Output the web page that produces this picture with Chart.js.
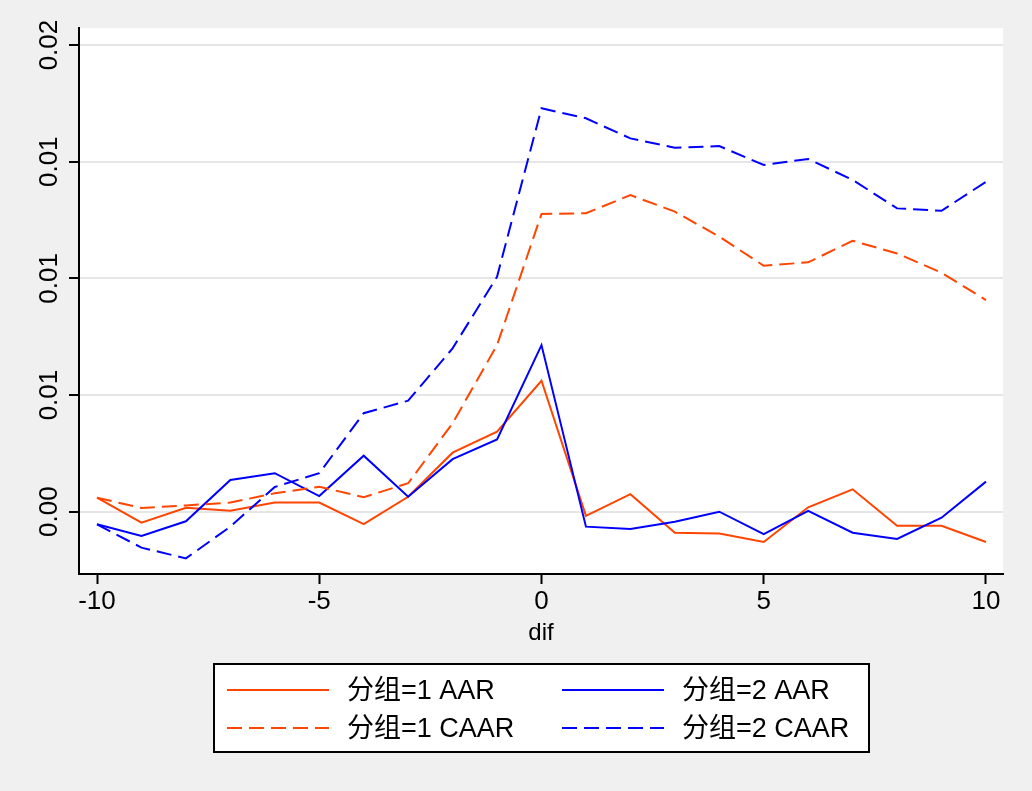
<!DOCTYPE html>
<html>
<head>
<meta charset="utf-8">
<script src="https://cdn.jsdelivr.net/npm/chart.js@4/dist/chart.umd.min.js"></script>
<style>
  html, body { margin: 0; padding: 0; background: #f0f0f0; }
  #wrap { width: 1032px; height: 791px; position: relative; }
</style>
</head>
<body>
<div id="wrap"><canvas id="evt"></canvas></div>
<script>
// ===== event window data =====
const dif = [-10, -9, -8, -7, -6, -5, -4, -3, -2, -1, 0, 1, 2, 3, 4, 5, 6, 7, 8, 9, 10];
const aar1 = [0.0006, -0.00047, 0.00017, 0.00004, 0.00039, 0.00039, -0.00053, 0.00064, 0.00253, 0.00343, 0.00561,
  -0.00018, 0.00075, -0.0009, -0.00093, -0.0013, 0.00019, 0.00096, -0.0006, -0.0006, -0.0013];
const aar2 = [-0.00054, -0.00104, -0.00041, 0.00136, 0.00165, 0.00067, 0.0024, 0.00064, 0.00225, 0.0031, 0.00714,
  -0.00064, -0.00074, -0.00043, 0.0, -0.00096, 0.00004, -0.0009, -0.00117, -0.00026, 0.00129];
const caar1 = [0.0006, 0.00016, 0.00027, 0.00039, 0.00079, 0.00107, 0.00062, 0.00122, 0.00379, 0.00714, 0.01276,
  0.01279, 0.01357, 0.01286, 0.01179, 0.01054, 0.01069, 0.01161, 0.01107, 0.01024, 0.00907];
const caar2 = [-0.00054, -0.00154, -0.002, -0.00064, 0.00106, 0.00165, 0.00422, 0.00476, 0.007, 0.01007, 0.01729,
  0.01686, 0.016, 0.0156, 0.01567, 0.01486, 0.01512, 0.01422, 0.013, 0.0129, 0.01414];
const seriesNames = ['分组=1 AAR', '分组=2 AAR', '分组=1 CAAR', '分组=2 CAAR'];
const xTicks = [-10, -5, 0, 5, 10];
const yTicks = [0, 0.005, 0.01, 0.015, 0.02];
const yTickLabels = ['0.00', '0.01', '0.01', '0.01', '0.02'];

const FONT = "'Liberation Sans', Arial, 'Noto Sans CJK SC', sans-serif";
const ORANGE = '#ff4500';
const BLUE = '#0000ff';
const DASH = [15, 7];

function pts(arr) { return dif.map((d, i) => ({ x: d, y: arr[i] })); }

// white plot region
const plotBg = {
  id: 'plotBg',
  beforeDraw(chart) {
    const { ctx, chartArea: a } = chart;
    ctx.save();
    ctx.fillStyle = '#ffffff';
    ctx.fillRect(a.left, a.top, a.right - a.left, a.bottom - a.top);
    ctx.restore();
  }
};

// rotated y labels (Stata style)
const yLabels = {
  id: 'yLabels',
  afterDraw(chart) {
    const { ctx } = chart;
    const y = chart.scales.y;
    ctx.save();
    ctx.font = '26px ' + FONT;
    ctx.fillStyle = '#000';
    ctx.textAlign = 'center';
    ctx.textBaseline = 'alphabetic';
    yTicks.forEach((v, i) => {
      ctx.save();
      ctx.translate(57, y.getPixelForValue(v));
      ctx.rotate(-Math.PI / 2);
      ctx.fillText(yTickLabels[i], 0, 0);
      ctx.restore();
    });
    ctx.restore();
  }
};

// boxed two-column legend
const boxLegend = {
  id: 'boxLegend',
  afterDraw(chart) {
    const { ctx, chartArea: a } = chart;
    const w = 655, h = 88;
    const left = Math.round((a.left + a.right) / 2 - w / 2);
    const top = a.bottom + 90;
    ctx.save();
    ctx.fillStyle = '#fff';
    ctx.fillRect(left, top, w, h);
    ctx.strokeStyle = '#000';
    ctx.lineWidth = 2;
    ctx.strokeRect(left, top, w, h);
    ctx.font = '27px ' + FONT;
    ctx.textBaseline = 'middle';
    ctx.textAlign = 'left';
    chart.data.datasets.forEach((ds, i) => {
      const col = i % 2, row = Math.floor(i / 2);
      const lx = left + 13 + col * 335;
      const ly = top + 26 + row * 38;
      ctx.strokeStyle = ds.borderColor;
      ctx.lineWidth = 2;
      ctx.setLineDash(ds.borderDash || []);
      ctx.beginPath();
      ctx.moveTo(lx, ly);
      ctx.lineTo(lx + 102, ly);
      ctx.stroke();
      ctx.setLineDash([]);
      ctx.fillStyle = '#000';
      ctx.fillText(ds.label, lx + 120, ly + 2);
    });
    ctx.restore();
  }
};

new Chart(document.getElementById('evt'), {
  type: 'line',
  data: {
    datasets: [
      { label: seriesNames[0], data: pts(aar1), borderColor: ORANGE, borderWidth: 2, order: 4 },
      { label: seriesNames[1], data: pts(aar2), borderColor: BLUE, borderWidth: 2, order: 3 },
      { label: seriesNames[2], data: pts(caar1), borderColor: ORANGE, borderWidth: 2, borderDash: DASH, order: 2 },
      { label: seriesNames[3], data: pts(caar2), borderColor: BLUE, borderWidth: 2, borderDash: DASH, order: 1 }
    ]
  },
  options: {
    responsive: true,
    maintainAspectRatio: false,
    animation: false,
    elements: { point: { radius: 0 }, line: { tension: 0, fill: false } },
    layout: { padding: { top: 28, right: 29, bottom: 143, left: 0 } },
    plugins: {
      legend: { display: false },
      tooltip: { enabled: false }
    },
    scales: {
      x: {
        type: 'linear',
        min: -10.405, max: 10.383,
        afterBuildTicks: s => { s.ticks = xTicks.map(v => ({ value: v })); },
        afterFit: s => { s.height = 74; },
        grid: { drawOnChartArea: false, drawTicks: true, tickLength: 10, tickColor: '#000', tickWidth: 2 },
        border: { color: '#000', width: 2 },
        ticks: { color: '#000', font: { family: FONT, size: 26 }, padding: 2, maxRotation: 0 },
        title: { display: true, text: 'dif', color: '#000', font: { family: FONT, size: 24 }, padding: 0 }
      },
      y: {
        type: 'linear',
        min: -0.00267, max: 0.020731,
        afterBuildTicks: s => { s.ticks = yTicks.map(v => ({ value: v })); },
        afterFit: s => { s.width = 79; },
        grid: { color: '#e6e6e6', lineWidth: 2, drawTicks: true, tickLength: 10, tickColor: '#000', tickWidth: 2 },
        border: { color: '#000', width: 2 },
        ticks: { display: false }
      }
    }
  },
  plugins: [plotBg, yLabels, boxLegend]
});
</script>
</body>
</html>
